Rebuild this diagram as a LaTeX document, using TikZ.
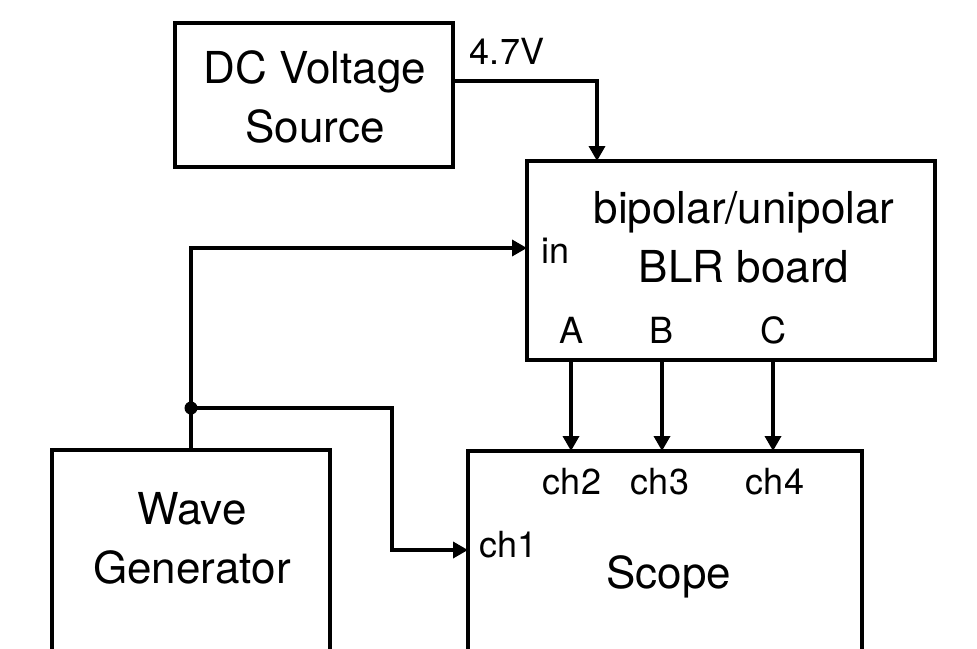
\documentclass[tikz,border=0pt]{standalone}
\usepackage{fontspec}
\setmainfont{TeX Gyre Heros}
\usetikzlibrary{arrows.meta,calc}
\begin{document}
\begin{tikzpicture}[x=1pt,y=-1pt,
  box/.style={draw,line width=4pt,rectangle,inner sep=0pt,outer sep=0pt,anchor=north west},
  big/.style={font=\fontsize{44}{59}\selectfont,align=center,anchor=base,inner sep=0pt},
  small/.style={font=\fontsize{36}{42}\selectfont,anchor=base,inner sep=0pt},
  conn/.style={line width=3.5pt,-{Triangle[length=15pt,width=16pt]}},
  wire/.style={line width=3.5pt}]
\useasboundingbox (0,0) rectangle (977,648);
\clip (0,0) rectangle (977,648);
% boxes
\node[box,minimum width=278pt,minimum height=144pt] (dc) at (175,23) {};
\node[box,minimum width=408pt,minimum height=199pt] (blr) at (527,161) {};
\node[box,minimum width=278pt,minimum height=260pt] (wave) at (52,450) {};
\node[box,minimum width=394pt,minimum height=260pt] (scope) at (468,451) {};
% texts
\node[big] (dct) at (315,142) {DC Voltage\\Source};
\node[big] (blrt) at (744,282) {bipolar/unipolar\\BLR board};
\node[big] (wavet) at (192,583) {Wave\\Generator};
\node[big] (scopet) at (669,588) {Scope};
\node[small] (volt) at (507,64) {4.7V};
\node[small,anchor=base west] (inl) at (541,263) {in};
\node[small] (la) at (571,343) {A};
\node[small] (lb) at (661,343) {B};
\node[small] (lc) at (773,343) {C};
\node[small] (ch2) at (572,494) {ch2};
\node[small] (ch3) at (660,494) {ch3};
\node[small] (ch4) at (775,494) {ch4};
\node[small,anchor=base west] (ch1) at (479,557) {ch1};
% coordinates
\coordinate (dcout) at (453,81);
\coordinate (blrtop) at (597,161);
\coordinate (blrin) at (527,248);
\coordinate (junc) at (191,408);
\coordinate (bend) at (392,408);
\coordinate (sc1) at (468,550);
\coordinate (oa) at (571,360);
\coordinate (ob) at (662,360);
\coordinate (oc) at (773,360);
\coordinate (ia) at (571,451);
\coordinate (ib) at (662,451);
\coordinate (ic) at (773,451);
% connectors
\draw[conn] (dcout) -| (blrtop);
\draw[conn] (wave.north) |- (blrin);
\draw[conn] (junc) -- (bend) |- (sc1);
\fill (junc) circle (6.5pt);
\draw[conn] (oa) -- (ia);
\draw[conn] (ob) -- (ib);
\draw[conn] (oc) -- (ic);
\end{tikzpicture}
\end{document}
